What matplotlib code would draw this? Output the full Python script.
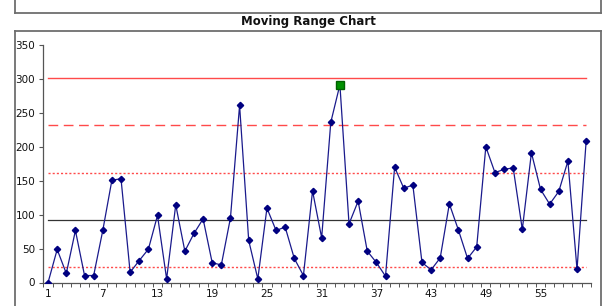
import matplotlib
matplotlib.use("Agg")
import matplotlib.pyplot as plt
from matplotlib.lines import Line2D
import numpy as np

# ---- data ----
points = list(range(1, 61))
moving_range = [0, 48.7, 13.3, 76.7, 10.3, 10.3, 76.7, 150.9, 152.8, 15.0,
                32.4, 49.1, 98.8, 5.3, 114.5, 46.2, 72.3, 93.8, 28.9, 26.0,
                95.3, 261.0, 61.9, 5.3, 109.6, 76.7, 81.6, 35.4, 10.3, 135.0,
                65.8, 236.0, 291.4, 86.4, 119.9, 46.2, 29.5, 9.3, 170.0, 139.0,
                143.5, 29.5, 18.6, 36.3, 115.9, 77.1, 35.4, 52.5, 200.0, 162.0,
                166.7, 169.0, 78.2, 191.2, 137.2, 115.5, 134.2, 178.9, 19.2, 208.4]
flagged_points = [33]
center_line = 92.2
ucl = 301.3
upper_2sigma = 231.6
upper_1sigma = 161.9
lower_1sigma = 22.5
y_ticks = [0, 50, 100, 150, 200, 250, 300, 350]
x_tick_labels = [1, 7, 13, 19, 25, 31, 37, 43, 49, 55]
title = "Moving Range Chart"

W, H = 608, 306
fig = plt.figure(figsize=(W / 100, H / 100), dpi=100)
fig.patch.set_facecolor("white")

def fx(px):
    return px / W

def fy(py):
    return 1 - py / H

border_col = "#6e6e6e"
# previous chart frame (bottom part visible)
fig.add_artist(Line2D([fx(15), fx(15)], [fy(-2), fy(13)], color=border_col, lw=1.3))
fig.add_artist(Line2D([fx(601), fx(601)], [fy(-2), fy(13)], color=border_col, lw=1.3))
fig.add_artist(Line2D([fx(15), fx(601)], [fy(13), fy(13)], color=border_col, lw=1.3))
# this chart frame
fig.add_artist(Line2D([fx(15), fx(15)], [fy(31), fy(310)], color=border_col, lw=1.3))
fig.add_artist(Line2D([fx(601), fx(601)], [fy(31), fy(310)], color=border_col, lw=1.3))
fig.add_artist(Line2D([fx(15), fx(601)], [fy(31), fy(31)], color=border_col, lw=1.3))

fig.text(fx(308), fy(21), title, ha="center", va="center",
         fontsize=8.5, fontweight="bold", family="DejaVu Sans", color="#111111")

ax = fig.add_axes([fx(43.5), fy(282.5), fx(590.7 - 43.5), (282.5 - 45) / H])
ax.set_xlim(0.5, 60.5)
ax.set_ylim(0, 350)

x0, x1 = points[0], points[-1]
ax.plot([x0, x1], [ucl, ucl], color="#ff4a4a", lw=1.0, zorder=2)
ax.plot([x0, x1], [upper_2sigma, upper_2sigma], color="#ff4a4a", lw=1.0,
        dashes=(7, 4), zorder=2)
ax.plot([x0, x1], [upper_1sigma, upper_1sigma], color="#ff4a4a", lw=1.0,
        dashes=(1.5, 1.5), zorder=2)
ax.plot([x0, x1], [lower_1sigma, lower_1sigma], color="#ff4a4a", lw=1.0,
        dashes=(1.5, 1.5), zorder=2)
ax.plot([x0, x1], [center_line, center_line], color="#333333", lw=0.9, zorder=2)

ax.plot(points, moving_range, color="#1a1a8c", lw=0.9, zorder=3,
        marker="D", markersize=3.2, markerfacecolor="#000080",
        markeredgecolor="#000080")
fx_vals = [moving_range[p - 1] for p in flagged_points]
ax.plot(flagged_points, fx_vals, linestyle="none", marker="s", markersize=5.5,
        markerfacecolor="#009000", markeredgecolor="#006000", zorder=4)

for s in ["top", "right"]:
    ax.spines[s].set_visible(False)
for s in ["left", "bottom"]:
    ax.spines[s].set_color("#555555")
    ax.spines[s].set_linewidth(0.9)

ax.set_yticks(y_ticks)
ax.set_yticklabels([str(v) for v in y_ticks])
ax.tick_params(axis="y", length=3, width=0.8, color="#555555", labelsize=7.5,
               pad=3, labelcolor="#111111")
ax.set_xticks(x_tick_labels)
ax.set_xticklabels([str(v) for v in x_tick_labels])
ax.tick_params(axis="x", which="major", length=0, labelsize=7.5, pad=5,
               labelcolor="#111111")
ax.set_xticks(np.arange(0.5, 61, 1), minor=True)
ax.tick_params(axis="x", which="minor", length=3, width=0.7, color="#555555")

fig.savefig("out.png", dpi=100, facecolor="white")
